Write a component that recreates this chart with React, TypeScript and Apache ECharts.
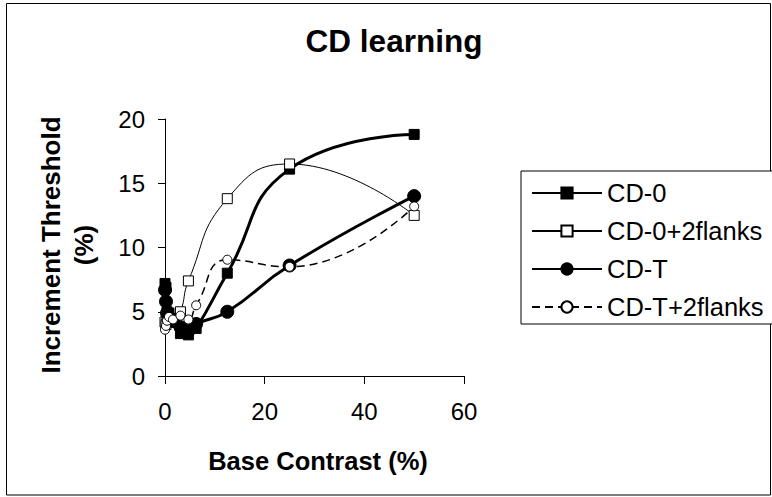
import React, { useEffect, useRef } from "react";
import * as echarts from "echarts";

const contrast = [0, 0.2, 0.4, 0.8, 1.6, 3.1, 4.7, 6.25, 12.5, 25, 50];
const cd0 = [7.2, 6.9, 5.0, 4.9, 4.2, 3.3, 3.2, 3.7, 8.0, 16.1, 18.8];
const cd0Flanks = [4.2, 4.0, 4.6, 4.5, 4.2, 5.0, 7.4, null, 13.8, 16.5, 12.5];
const cdT = [6.7, 5.8, 4.9, 4.6, 4.3, 3.8, 3.5, 4.05, 5.0, 8.6, 14.0];
const cdTFlanks = [3.6, 3.9, 4.3, 4.6, 4.4, 4.7, 4.4, 5.5, 9.05, 8.5, 13.2];
const seriesNames = ["CD-0", "CD-0+2flanks", "CD-T", "CD-T+2flanks"];
const xTicks = [0, 20, 40, 60];
const yTicks = [0, 5, 10, 15, 20];

const FONT = '"Liberation Sans", Arial, sans-serif';

function pairs(vals: (number | null)[]) {
  const out: number[][] = [];
  vals.forEach((v, i) => {
    if (v !== null && v !== undefined) out.push([contrast[i], v]);
  });
  return out;
}

export default function App() {
  const ref = useRef<HTMLDivElement>(null);
  useEffect(() => {
    if (!ref.current) return;
    const chart = echarts.init(ref.current, undefined, { renderer: "svg" });
    const option = {
      animation: false,
      backgroundColor: "#fff",
      grid: { left: 165, right: 308, top: 119, bottom: 121 },
      xAxis: {
        type: "value",
        min: xTicks[0],
        max: xTicks[xTicks.length - 1],
        interval: 20,
        axisLine: { show: true, onZero: false, lineStyle: { color: "#000", width: 1 } },
        axisTick: { show: true, inside: false, length: 8, lineStyle: { color: "#000" } },
        axisLabel: { margin: 23, color: "#000", fontFamily: FONT, fontSize: 24, lineHeight: 24 },
        splitLine: { show: false },
      },
      yAxis: {
        type: "value",
        min: yTicks[0],
        max: yTicks[yTicks.length - 1],
        interval: 5,
        axisLine: { show: true, onZero: false, lineStyle: { color: "#000", width: 1 } },
        axisTick: { show: true, inside: false, length: 7, lineStyle: { color: "#000" } },
        axisLabel: { margin: 20, color: "#000", fontFamily: FONT, fontSize: 24 },
        splitLine: { show: false },
      },
      legend: {
        orient: "vertical",
        left: 521,
        top: 171,
        padding: [9, 14, 4, 10],
        itemWidth: 70,
        itemHeight: 14,
        itemGap: 12,
        borderColor: "#000",
        borderWidth: 1,
        backgroundColor: "#fff",
        textStyle: { color: "#000", fontFamily: FONT, fontSize: 25.5, lineHeight: 25 },
        data: seriesNames,
      },
      graphic: [
        {
          type: "rect",
          shape: { x: 6.5, y: 3.5, width: 764, height: 491.5 },
          style: { fill: "none", stroke: "#000", lineWidth: 1 },
          silent: true,
          z: -10,
        },
        {
          type: "text",
          x: 394,
          y: 41,
          style: {
            text: "CD learning",
            font: `bold 31.5px ${FONT}`,
            fill: "#000",
            textAlign: "center",
            textVerticalAlign: "middle",
          },
        },
        {
          type: "text",
          x: 318,
          y: 461,
          style: {
            text: "Base Contrast (%)",
            font: `bold 25.5px ${FONT}`,
            fill: "#000",
            textAlign: "center",
            textVerticalAlign: "middle",
          },
        },
        {
          type: "text",
          x: 67.5,
          y: 245,
          rotation: Math.PI / 2,
          style: {
            text: "Increment Threshold\n(%)",
            font: `bold 26px ${FONT}`,
            lineHeight: 33,
            fill: "#000",
            textAlign: "center",
            textVerticalAlign: "middle",
          },
        },
      ],
      series: [
        {
          name: seriesNames[0],
          type: "line",
          smooth: true,
          data: pairs(cd0),
          symbol: "rect",
          symbolSize: 10,
          lineStyle: { color: "#000", width: 3 },
          itemStyle: { color: "#000", borderColor: "#000", borderWidth: 1 },
        },
        {
          name: seriesNames[1],
          type: "line",
          smooth: true,
          connectNulls: true,
          data: pairs(cd0Flanks),
          symbol: "rect",
          symbolSize: 10,
          lineStyle: { color: "#000", width: 1 },
          itemStyle: { color: "#fff", borderColor: "#000", borderWidth: 1 },
        },
        {
          name: seriesNames[2],
          type: "line",
          smooth: true,
          data: pairs(cdT),
          symbol: "circle",
          symbolSize: 13,
          lineStyle: { color: "#000", width: 3 },
          itemStyle: { color: "#000", borderColor: "#000", borderWidth: 1 },
        },
        {
          name: seriesNames[3],
          type: "line",
          smooth: true,
          data: pairs(cdTFlanks),
          symbol: "circle",
          symbolSize: 9,
          lineStyle: { color: "#000", width: 1.5, type: [8, 5] },
          itemStyle: { color: "#fff", borderColor: "#000", borderWidth: 1 },
        },
      ],
    };
    chart.setOption(option as any);
    return () => chart.dispose();
  }, []);
  return (
    <div
      ref={ref}
      style={{ position: "absolute", left: 0, top: 0, width: 772, height: 497 }}
    />
  );
}
